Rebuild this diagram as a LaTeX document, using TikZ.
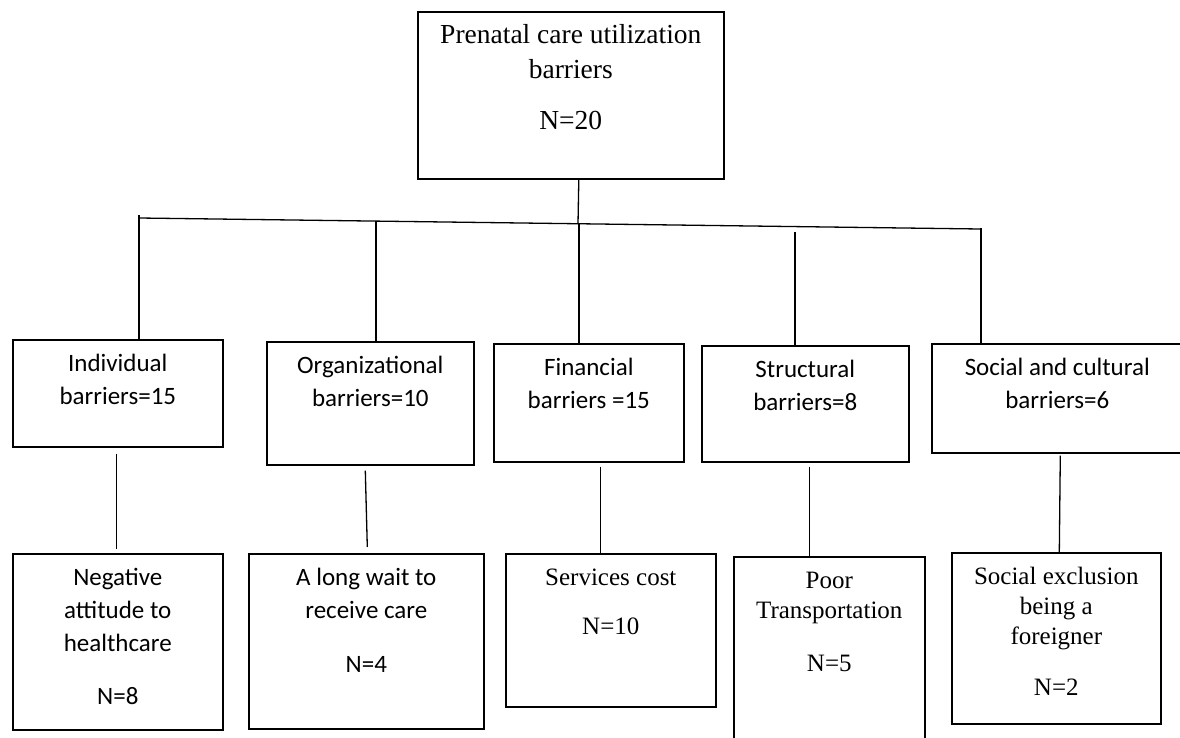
\documentclass[tikz,border=0pt]{standalone}
\usepackage{fontspec}
\setmainfont{Liberation Serif}
\newfontfamily\calibri{Carlito}
\newcommand{\bnode}[6]{\node(#1)[barrier,#2] at (#3) {\parbox[c][#5][t]{#4}{\centering\rule{0pt}{32pt}#6}}}

\begin{document}
\begin{tikzpicture}[
    x=1pt, y=-1pt,
    every node/.style={inner sep=0pt},
    barrier/.style={rectangle,draw=black,line width=1.6pt,anchor=north west},
    sans/.style={font={\calibri\fontsize{25}{33}\selectfont}},
    serif/.style={font={\fontsize{25}{30}\selectfont}},
    link/.style={line width=1.3pt}
  ]
  \useasboundingbox (0,0) rectangle (1180,738);
  % top box
  \bnode{root}{font={\fontsize{27.5}{35}\selectfont}}{417,11}{306pt}{167pt}{Prenatal care utilization\\barriers\\[16pt]N=20};
  % barrier groups
  \bnode{ind}{sans}{12,339}{210pt}{107pt}{Individual\\barriers=15};
  \bnode{org}{sans}{266,341}{207pt}{123pt}{Organizational\\barriers=10};
  \bnode{fin}{sans}{493,343}{190pt}{118pt}{Financial\\barriers =15};
  \bnode{str}{sans}{701,345}{207pt}{116pt}{Structural\\barriers=8};
  \bnode{soc}{sans}{931,343}{251pt}{109pt}{Social and cultural\\barriers=6};
  % single barriers
  \bnode{neg}{sans}{12,553}{210pt}{176pt}{Negative\\attitude to\\healthcare\\[20pt]N=8};
  \bnode{wait}{sans}{248,553}{235pt}{175pt}{A long wait to\\receive care\\[21pt]N=4};
  \bnode{cost}{serif}{505,553}{210pt}{153pt}{Services cost\\[19pt]N=10};
  \bnode{poor}{serif}{733,556}{191pt}{200pt}{Poor\\Transportation\\[23pt]N=5};
  \bnode{excl}{serif}{951,552}{209pt}{171pt}{Social exclusion\\being a\\foreigner\\[21pt]N=2};

  % bus
  \coordinate (busL) at (139,218);
  \coordinate (busR) at (980,229);
  \coordinate (busM) at (578,224);
  \draw[link] (busL) -- (busR);
  \draw[link] ([xshift=8pt]root.south) -- (busM);
  \coordinate (t1) at (139,215);
  \coordinate (t2) at (376,221);
  \coordinate (t3) at (579,224);
  \coordinate (t4) at (795,232);
  \coordinate (t5) at (981,228);
  \draw[link] (t1) -- (t1 |- ind.north);
  \draw[link] (t2) -- (t2 |- org.north);
  \draw[link] (t3) -- (t3 |- fin.north);
  \draw[link] (t4) -- (t4 |- str.north);
  \draw[link] (t5) -- (t5 |- soc.north);

  % lower links
  \draw[link] ([xshift=-1pt,yshift=-6pt]ind.south) -- ([xshift=-1pt,yshift=4pt]neg.north);
  \draw[link] ([xshift=-5pt,yshift=-5pt]org.south) -- ([xshift=1pt,yshift=6pt]wait.north);
  \draw[link] ([xshift=12pt,yshift=-4pt]fin.south) -- ([xshift=-10pt]cost.north);
  \draw[link] ([xshift=4pt,yshift=-4pt]str.south) -- ([xshift=-20pt]poor.north);
  \draw[link] ([xshift=3pt,yshift=-2pt]soc.south) -- ([xshift=3pt]excl.north);
\end{tikzpicture}
\end{document}
